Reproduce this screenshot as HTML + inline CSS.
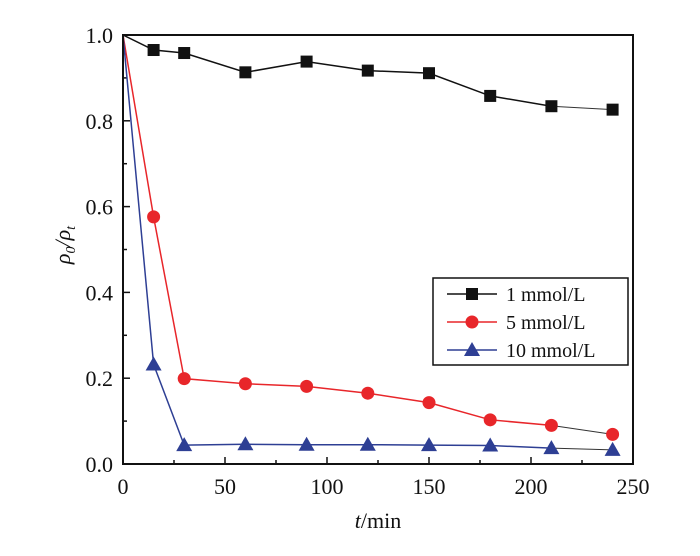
<!DOCTYPE html>
<html><head><meta charset="utf-8"><style>
body{margin:0;background:#fff}
svg text{font-family:"Liberation Serif",serif;fill:#111}
</style></head><body>
<svg id="chart" width="700" height="551" viewBox="0 0 700 551" xmlns="http://www.w3.org/2000/svg">
<g id="grid"></g>
<g id="series"></g>
<rect x="123" y="35" width="510" height="429" fill="none" stroke="#111" stroke-width="2"/>
<text x="378" y="528" font-size="22" text-anchor="middle"><tspan font-style="italic">t</tspan>/min</text>
<text transform="translate(70,245) rotate(-90)" font-size="22" text-anchor="middle" font-style="italic">ρ<tspan font-size="14" dy="5">0</tspan><tspan dy="-5">/ρ</tspan><tspan font-size="14" dy="5">t</tspan></text>
<g>
<rect x="433" y="278" width="195" height="87" fill="#fff" stroke="#111" stroke-width="1.5"/>
<g id="legend"></g>
</g>
</svg>
<script>
const times=[0,15,30,60,90,120,150,180,210,240];
const s1=[1.0,0.965,0.958,0.913,0.938,0.917,0.911,0.858,0.834,0.826];
const s5=[1.0,0.576,0.199,0.187,0.181,0.165,0.143,0.103,0.090,0.069];
const s10=[1.0,0.232,0.044,0.046,0.045,0.045,0.044,0.043,0.037,0.033];
const seriesNames=["1 mmol/L","5 mmol/L","10 mmol/L"];
const xTicks=[0,50,100,150,200,250];
const yTicks=[0.0,0.2,0.4,0.6,0.8,1.0];
const NS="http://www.w3.org/2000/svg";
const X=v=>123+v*(510/250), Y=v=>464-v*429;
function mk(t,a,p){const e=document.createElementNS(NS,t);for(const k in a)e.setAttribute(k,a[k]);p.appendChild(e);return e;}
const g=document.getElementById('grid');
for(let v=25;v<250;v+=25){const l=mk('line',{x1:X(v),x2:X(v),y1:464,y2:464-(v%50?4:7),stroke:'#111','stroke-width':1.5},g);

}
for(let v=0.1;v<1;v+=0.1){const maj=Math.round(v*10)%2==0;const l=mk('line',{x1:123,x2:123+(maj?7:4),y1:Y(v),y2:Y(v),stroke:'#111','stroke-width':1.5},g);

}
xTicks.forEach(v=>{const t=mk('text',{x:X(v),y:494,'font-size':22,'text-anchor':'middle'},g);t.textContent=v;

});
yTicks.forEach(v=>{const t=mk('text',{x:113,y:Y(v)+8,'font-size':22,'text-anchor':'end'},g);t.textContent=v.toFixed(1);

});
const sg=document.getElementById('series');
const cols=['#111','#e8262a','#2e3f94'];
const shapes=['square','circle','triangle'];
function marker(shape,x,y,c,p){let e;
 if(shape=='square')e=mk('rect',{x:x-6,y:y-6,width:12,height:12,fill:c},p);
 else if(shape=='circle')e=mk('circle',{cx:x,cy:y,r:6.5,fill:c},p);
 else e=mk('polygon',{points:`${x},${y-8} ${x+8},${y+6} ${x-8},${y+6}`,fill:c},p);
 return e;}
[s1,s5,s10].forEach((s,i)=>{
 const grp=mk('g',{},sg);
 
 
 const n=times.length;
 const pts=times.slice(0,n-1).map((t,j)=>X(t)+','+Y(s[j])).join(' ');
 const pl=mk('polyline',{points:pts,fill:'none',stroke:cols[i],'stroke-width':1.5},grp);
 
 
 const last=mk('line',{x1:X(times[n-2]),y1:Y(s[n-2]),x2:X(times[n-1]),y2:Y(s[n-1]),stroke:'#333','stroke-width':1},grp);
 
 
 times.forEach((t,j)=>{if(j==0)return;const m=marker(shapes[i],X(t),Y(s[j]),cols[i],grp);
  
  });
});
const lg=document.getElementById('legend');
seriesNames.forEach((nm,i)=>{const y=294+i*28;
 const e=mk('g',{},lg);
 
 
 mk('line',{x1:447,x2:497,y1:y,y2:y,stroke:cols[i],'stroke-width':1.5},e);
 marker(shapes[i],472,y,cols[i],e);
 const t=mk('text',{x:506,y:y+7,'font-size':20},e);t.textContent=nm;});
</script>
</body></html>
